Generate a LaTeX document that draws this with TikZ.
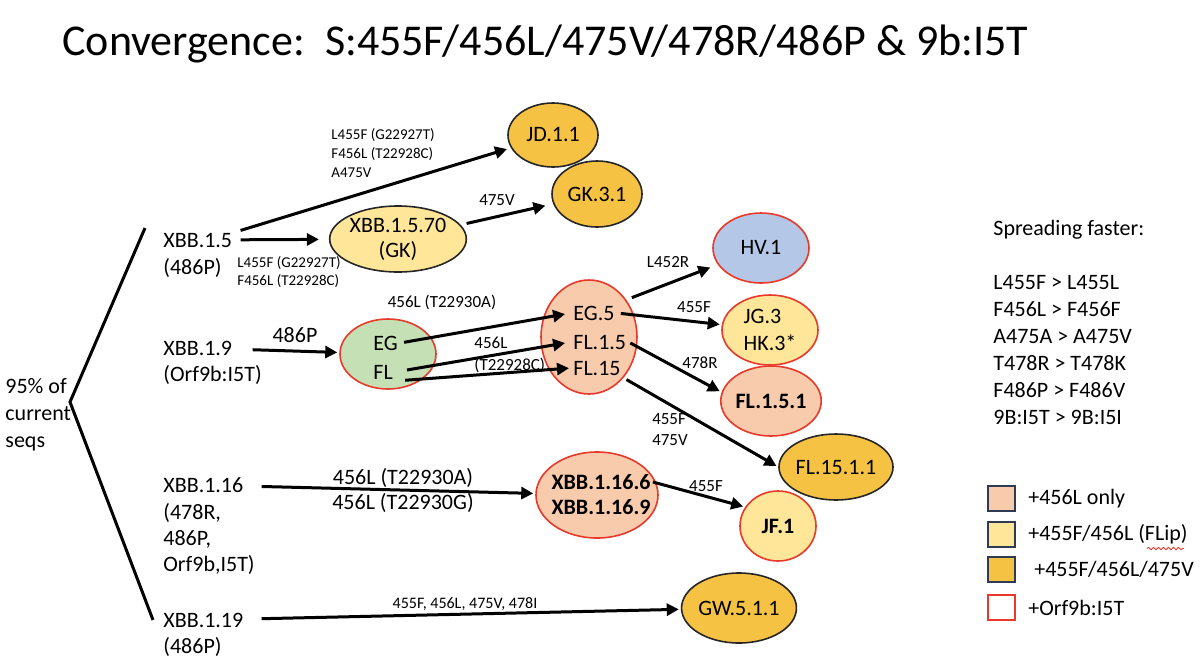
\documentclass[tikz,border=0pt]{standalone}
\usepackage{fontspec}
\setmainfont{Carlito}
\usetikzlibrary{arrows.meta, positioning, calc, shapes.geometric, decorations.pathmorphing}
\definecolor{cpeach}{HTML}{F8CBAD}
\definecolor{cflip}{HTML}{FFE699}
\definecolor{cgold}{HTML}{F5C243}
\definecolor{cblue}{HTML}{B4C7E7}
\definecolor{cgreen}{HTML}{C5E0B4}
\definecolor{ored}{HTML}{E8392B}
\definecolor{oblk}{HTML}{262626}
\definecolor{legline}{HTML}{2F3B52}
\newcommand{\mainsz}{\fontsize{11}{13.5}\selectfont}
\newcommand{\labsz}{\fontsize{8.5}{11}\selectfont}
\newcommand{\tinysz}{\fontsize{7.5}{9.5}\selectfont}
\tikzset{
  ell/.style    ={draw, ellipse, inner sep=0pt, line width=0.8pt, font=\fontsize{11}{12.5}\selectfont},
  redell/.style ={ell, draw=ored},
  blkell/.style ={ell, draw=oblk},
  arr/.style    ={-{Triangle[length=6pt, width=6pt]}, line width=1.5pt},
  txt/.style    ={inner sep=1pt, font=\mainsz},
  lab/.style    ={inner sep=0pt, font=\labsz},
  tlab/.style   ={inner sep=0pt, font=\tinysz, align=left, anchor=west},
  legbox/.style ={draw=legline, line width=0.9pt, minimum width=13.5pt, minimum height=12.5pt, inner sep=0pt},
}
\begin{document}
\begin{tikzpicture}[x=0.5pt, y=-0.5pt]
  \fill[white] (0,0) rectangle (1200,670);
  % title
  \node[anchor=base west, inner sep=0pt, font=\fontsize{22}{26}\selectfont] (title) at (62,55)
    {Convergence:\ \ S:455F/456L/475V/478R/486P \& 9b:I5T};

  % the five lineages
  \coordinate (bv) at (70,402);
  \coordinate (bt) at (145,228);
  \coordinate (bb) at (153,620);
  \draw[line width=1.5pt] (bt) -- (bv) -- (bb);
  \node[txt, anchor=west, align=left] (seqs) at (3,415) {95\% of\\current\\seqs};

  \node[txt, anchor=west] (x15)  at (161,240) {XBB.1.5};
  \node[txt, anchor=west] (x15n) at (161,268) {(486P)};
  \node[txt, anchor=west] (x19)  at (161,348) {XBB.1.9};
  \node[txt, anchor=west] (x19n) at (161,375) {(Orf9b:I5T)};
  \node[txt, anchor=west] (x116) at (161,485) {XBB.1.16};
  \node[txt, anchor=west, align=left, font=\fontsize{11}{13}\selectfont] (x116n) at (161,539) {(478R,\\486P,\\Orf9b,I5T)};
  \node[txt, anchor=west] (x119)  at (161,620) {XBB.1.19};
  \node[txt, anchor=west] (x119n) at (161,647) {(486P)};

  % descendants
  \node[blkell, fill=cgold, minimum width=45pt, minimum height=32pt] (jd)   at (553,135) {JD.1.1};
  \node[blkell, fill=cgold, minimum width=45pt, minimum height=33pt] (gk31) at (597,194) {GK.3.1};
  \node[blkell, fill=cflip, minimum width=63pt, minimum height=33pt, align=center] (gk70) at (398,239) {XBB.1.5.70\\(GK)};
  \node[redell, fill=cgreen, minimum width=48pt, minimum height=35pt] (egfl) at (388,354) {};
  \node[txt, anchor=west] (eg) at (371,343) {EG};
  \node[txt, anchor=west] (fl) at (371,372) {FL};
  \node[redell, fill=cpeach, minimum width=48pt, minimum height=57pt] (eg5ell) at (589,337) {};
  \node[txt, anchor=west] (eg5)  at (571,313) {EG.5};
  \node[txt, anchor=west] (fl15a) at (571,342) {FL.1.5};
  \node[txt, anchor=west] (fl15) at (571,368) {FL.15};
  \node[redell, fill=cblue, minimum width=48pt, minimum height=35pt] (hv1) at (761,248) {HV.1};
  \node[redell, fill=cflip, minimum width=48pt, minimum height=35pt, align=left, font=\mainsz] (jg3) at (770,330) {JG.3\\HK.3*};
  \node[redell, fill=cpeach, minimum width=47pt, minimum height=35pt, font=\bfseries\mainsz] (fl151) at (771,401) {FL.1.5.1};
  \node[blkell, fill=cgold, minimum width=44pt, minimum height=33pt] (fl1511) at (836,467) {FL.15.1.1};
  \node[redell, fill=cpeach, minimum width=61pt, minimum height=43pt] (x1166ell) at (597,495) {};
  \node[txt, font=\bfseries\mainsz] (x1166) at (601,482) {XBB.1.16.6};
  \node[txt, font=\bfseries\mainsz] (x1169) at (601,507) {XBB.1.16.9};
  \node[redell, fill=cflip, minimum width=38pt, minimum height=35pt, font=\bfseries\mainsz] (jf1) at (778,526) {JF.1};
  \node[blkell, fill=cgold, minimum width=50pt, minimum height=35pt] (gw) at (739,608) {GW.5.1.1};

  % arrows
  \draw[arr, shorten >=2pt] ([xshift=3pt]x15.north east) -- (jd);
  \draw[arr, shorten <=3pt, shorten >=5pt] (x15) -- (gk70);
  \draw[arr, shorten <=3pt, shorten >=4pt] (gk70) -- (gk31);
  \draw[arr, shorten <=9pt, shorten >=1pt] (x19) -- (egfl);
  \draw[arr, shorten <=2pt, shorten >=3pt] (eg.east) -- (eg5.west);
  \draw[arr, shorten <=6pt, shorten >=3pt] (fl.east) -- (fl15a.west);
  \draw[arr, shorten <=5pt, shorten >=1pt] ([yshift=-4.5pt]fl.east) -- (fl15.west);
  \draw[arr, shorten <=8pt, shorten >=4pt] (eg5.north east) -- (hv1);
  \draw[arr, shorten <=2pt, shorten >=1pt] (eg5.east) -- (jg3);
  \draw[arr, shorten <=1pt, shorten >=1pt] (fl15a.east) -- (fl151.170);
  \draw[arr, shorten <=2pt, shorten >=1pt] (fl15.south east) -- (fl1511.west);
  \draw[arr, shorten <=8pt, shorten >=1pt] (x116) -- (x1166ell);
  \draw[arr, shorten >=1pt] (x1166.east) -- (jf1.150);
  \draw[arr, shorten <=8pt, shorten >=1pt] (x119) -- (gw);

  % mutation labels
  \node[tlab] (ljd) at (331,153) {L455F (G22927T)\\F456L (T22928C)\\A475V};
  \node[tlab, font=\fontsize{7.5}{8.7}\selectfont] (lgk) at (237,272) {L455F (G22927T)\\F456L (T22928C)};
  \node[lab] (l475)  at (497,200) {475V};
  \node[lab] (l456a) at (442,302) {456L (T22930A)};
  \node[lab, font=\mainsz] (l486) at (295,335) {486P};
  \node[lab, anchor=west, align=left] (l456c) at (474,355) {456L\\(T22928C)};
  \node[lab] (l452)  at (668,262) {L452R};
  \node[lab] (l455a) at (694,307) {455F};
  \node[lab] (l478)  at (700,363) {478R};
  \node[lab, align=left, font=\fontsize{8.5}{10.5}\selectfont] (l455b) at (670,430) {455F\\475V};
  \node[lab] (l455c) at (706,486) {455F};
  \node[lab, align=center, font=\fontsize{11}{12.5}\selectfont] (l456b) at (403,490) {456L (T22930A)\\456L (T22930G)};
  \node[lab, font=\fontsize{8}{10}\selectfont] (lall) at (465,604) {455F, 456L, 475V, 478I};

  % right side
  \node[txt, anchor=west] (spr) at (991,230) {Spreading faster:};
  \node[txt, anchor=west, align=left] (rules) at (991,350)
    {L455F > L455L\\F456L > F456F\\A475A > A475V\\T478R > T478K\\F486P > F486V\\9B:I5T > 9B:I5I};

  % legend
  \node[legbox, fill=cpeach] (lb1) at (1001.5,498.5) {};
  \node[legbox, fill=cflip]  (lb2) at (1001.5,534.5) {};
  \node[legbox, fill=cgold]  (lb3) at (1001.5,569.5) {};
  \node[legbox, draw=ored, fill=white] (lb4) at (1001.5,607.5) {};
  \node[txt, right=5pt of lb1] (lt1) {+456L only};
  \node[txt, right=5pt of lb2] (lt2) {+455F/456L (FLip)};
  \node[txt, right=8pt of lb3] (lt3) {+455F/456L/475V};
  \node[txt, right=5pt of lb4] (lt4) {+Orf9b:I5T};
  \draw[ored, line width=0.4pt, decorate, decoration={snake, amplitude=0.6pt, segment length=2.5pt}]
    ($(lt2.west)+(121,14)$) -- ++(37,0);
\end{tikzpicture}
\end{document}
